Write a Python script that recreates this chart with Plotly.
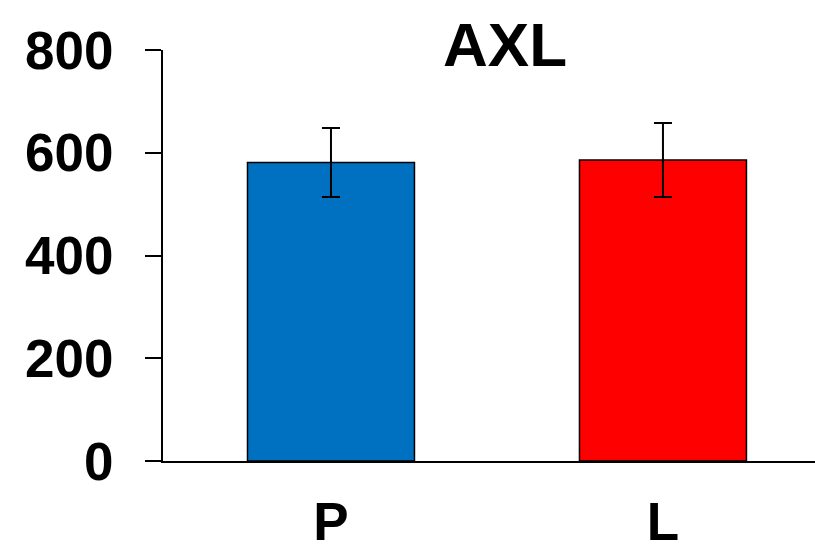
import plotly.graph_objects as go

# AXL expression by group
categories = ["P", "L"]
means = [581, 586]
errors = [67, 72]
colors = ["#0070C0", "#FF0000"]

FONT = "Liberation Sans, Arial, sans-serif"

fig = go.Figure(
    go.Bar(
        x=categories,
        y=means,
        width=0.503,
        marker=dict(color=colors, line=dict(color="black", width=1.5)),
        error_y=dict(type="data", array=errors, visible=True,
                     color="black", thickness=2, width=9),
    )
)

fig.update_layout(
    width=815,
    height=553,
    margin=dict(l=163, r=0, t=50, b=92),
    plot_bgcolor="white",
    paper_bgcolor="white",
    showlegend=False,
    font=dict(family=FONT, color="black"),
    title=dict(
        text="AXL",
        font=dict(family=FONT, size=62, color="black", weight="bold"),
        x=505 / 815, xanchor="center", xref="container",
        y=1 - 44 / 553, yanchor="middle", yref="container",
    ),
)

fig.update_xaxes(
    range=[-0.506, 1.458],
    automargin=False,
    showline=True, linecolor="black", linewidth=2,
    ticks="", showgrid=False, zeroline=False,
    tickfont=dict(family=FONT, size=53, color="black", weight="bold"),
    ticklabelstandoff=13,
)

fig.update_yaxes(
    range=[0, 800],
    automargin=False,
    tickvals=[0, 200, 400, 600, 800],
    showline=True, linecolor="black", linewidth=2,
    ticks="outside", ticklen=16, tickwidth=2, tickcolor="black",
    showgrid=False, zeroline=False,
    tickfont=dict(family=FONT, size=53, color="black", weight="bold"),
    ticklabelstandoff=21,
)

fig.write_html("out.html")
